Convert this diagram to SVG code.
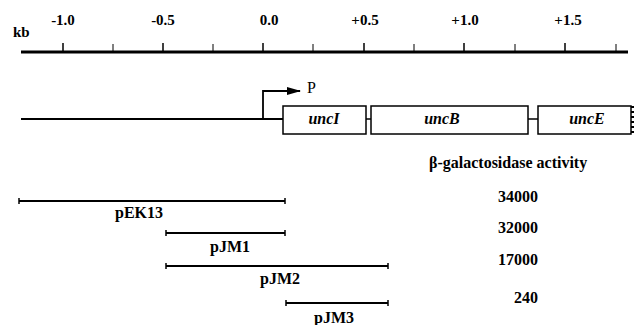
<svg xmlns="http://www.w3.org/2000/svg" width="635" height="325" viewBox="0 0 635 325">
<style>
text{font-family:'Liberation Serif','DejaVu Serif','Times New Roman',Times,serif}
.t{font-weight:bold;font-size:15px;fill:#000}
.tc{text-anchor:middle}
.te{text-anchor:end}
.g{font-style:italic;font-size:16px}
.ln{stroke:#000;fill:none}
.box{stroke:#000;stroke-width:1.5;fill:#fff}
.bar{stroke:#000;stroke-width:2;fill:none}
.cap{stroke:#000;stroke-width:1.5}
</style>
<defs>
<marker id="ah" markerWidth="14" markerHeight="8" refX="13" refY="4" orient="auto" markerUnits="userSpaceOnUse">
<path d="M0,0 L14,4 L0,8 Z" fill="#000"/>
</marker>
</defs>
<g id="axis">
<line class="ln" x1="21" y1="52" x2="628" y2="52" stroke-width="3"/>
<g class="ln" stroke-width="1.5">
<line x1="63" y1="43" x2="63" y2="51"/>
<line x1="113" y1="44" x2="113" y2="51" stroke-width="1"/>
<line x1="163" y1="43" x2="163" y2="51"/>
<line x1="213" y1="44" x2="213" y2="51" stroke-width="1"/>
<line x1="263" y1="43" x2="263" y2="51"/>
<line x1="313" y1="44" x2="313" y2="51" stroke-width="1"/>
<line x1="364" y1="43" x2="364" y2="51"/>
<line x1="414" y1="44" x2="414" y2="51" stroke-width="1"/>
<line x1="464" y1="43" x2="464" y2="51"/>
<line x1="515" y1="44" x2="515" y2="51" stroke-width="1"/>
<line x1="565" y1="43" x2="565" y2="51"/>
<line x1="616" y1="44" x2="616" y2="51" stroke-width="1"/>
</g>
<text class="t" x="13" y="37">kb</text>
<text class="t tc" x="63" y="25">-1.0</text>
<text class="t tc" x="163" y="25">-0.5</text>
<text class="t tc" x="269" y="25">0.0</text>
<text class="t tc" x="365" y="25">+0.5</text>
<text class="t tc" x="465" y="25">+1.0</text>
<text class="t tc" x="568" y="25">+1.5</text>
</g>
<g id="connectors">
<line class="ln" x1="21" y1="119" x2="283" y2="119" stroke-width="1.8"/>
<line class="ln" x1="366" y1="119" x2="371" y2="119" stroke-width="1.5"/>
<line class="ln" x1="528" y1="119" x2="538" y2="119" stroke-width="1.5"/>
</g>
<g id="promoter">
<path class="ln" stroke-width="1.8" d="M263,119 V91 H300" marker-end="url(#ah)"/>
<text x="307" y="93" style="font-size:16px">P</text>
</g>
<g id="uncI">
<rect class="box" x="283" y="106" width="83" height="28"/>
<text class="t g tc" x="324" y="124">uncI</text>
</g>
<g id="uncB">
<rect class="box" x="371" y="106" width="157" height="28"/>
<text class="t g tc" x="442" y="124">uncB</text>
</g>
<g id="uncE">
<rect class="box" x="538" y="106" width="93" height="28"/>
<path d="M631,106 h3 v2 h-3 v3 h3 v2 h-3 v3 h3 v2 h-3 v3 h3 v2 h-3 v3 h3 v2 h-3 v3 h3 v2 h-3 z" fill="#000"/>
<text class="t g tc" x="587" y="124">uncE</text>
</g>
<text class="t" x="429" y="168" style="font-size:16px">β-galactosidase activity</text>
<g id="pEK13">
<line class="bar" x1="19" y1="201" x2="285" y2="201"/>
<line class="cap" x1="19" y1="198" x2="19" y2="204"/>
<line class="cap" x1="285" y1="198" x2="285" y2="204"/>
<text class="t" x="115" y="218" style="font-size:16px">pEK13</text>
<text class="t te" x="538" y="202" style="font-size:16px">34000</text>
</g>
<g id="pJM1">
<line class="bar" x1="166" y1="233" x2="285" y2="233"/>
<line class="cap" x1="166" y1="230" x2="166" y2="236"/>
<line class="cap" x1="285" y1="230" x2="285" y2="236"/>
<text class="t tc" x="230" y="252" style="font-size:16px">pJM1</text>
<text class="t te" x="538" y="233" style="font-size:16px">32000</text>
</g>
<g id="pJM2">
<line class="bar" x1="166" y1="266" x2="388" y2="266"/>
<line class="cap" x1="166" y1="263" x2="166" y2="269"/>
<line class="cap" x1="388" y1="263" x2="388" y2="269"/>
<text class="t tc" x="280" y="284" style="font-size:16px">pJM2</text>
<text class="t te" x="538" y="265" style="font-size:16px">17000</text>
</g>
<g id="pJM3">
<line class="bar" x1="286" y1="303" x2="388" y2="303"/>
<line class="cap" x1="286" y1="300" x2="286" y2="306"/>
<line class="cap" x1="388" y1="300" x2="388" y2="306"/>
<text class="t tc" x="334" y="323" style="font-size:16px">pJM3</text>
<text class="t te" x="538" y="303" style="font-size:16px">240</text>
</g>
</svg>
